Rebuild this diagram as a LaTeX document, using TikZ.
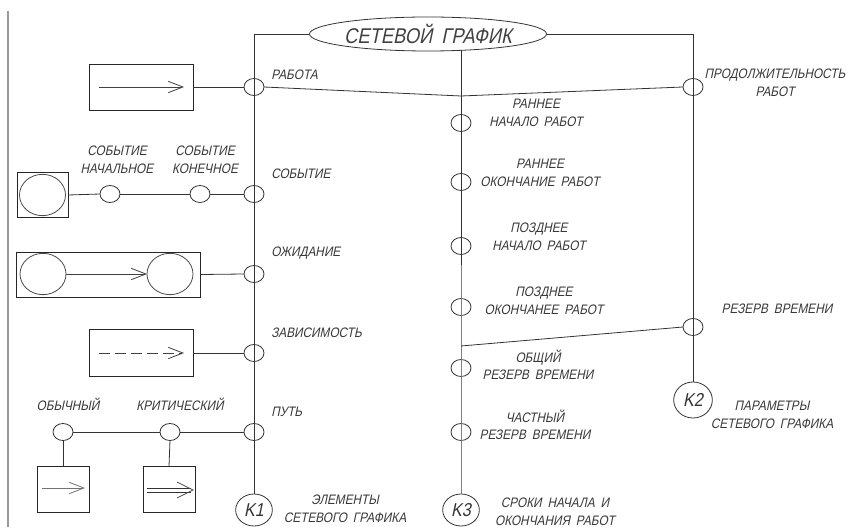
\documentclass[tikz,border=0pt]{standalone}
\usepackage{fontspec}
\newfontfamily\gost{Liberation Sans}[FakeStretch=0.86,FakeSlant=0.21,WordSpace=1.8]
\usetikzlibrary{shapes.geometric,arrows.meta}
\begin{document}
\begin{tikzpicture}[x=0.75pt,y=-0.75pt,
 ln/.style={draw=black!80,line width=0.6pt},
 lng/.style={draw=black!50,line width=0.6pt},
 junc/.style={ellipse,draw=black!80,line width=0.6pt,minimum width=15pt,minimum height=12.75pt,inner sep=0pt,outer sep=0pt},
 kc/.style={ellipse,draw=black!80,line width=0.6pt,minimum width=27.5pt,minimum height=24pt,inner sep=0pt,outer sep=0pt,font=\gost\fontsize{14}{14}\selectfont,text=black!80},
 boxx/.style={rectangle,draw=black!85,line width=0.6pt,inner sep=0pt,outer sep=0pt},
 ev/.style={ellipse,draw=black!70,line width=0.6pt,minimum width=34.5pt,minimum height=31pt,inner sep=0pt,outer sep=0pt},
 lbl/.style={font=\gost\fontsize{10.3}{13.2}\selectfont,text=black!78,align=center,inner sep=0pt},
 lbll/.style={lbl,anchor=west},
 barb/.style={draw=black!75,line width=0.6pt,-{Straight Barb[length=11pt,width=8.5pt,line width=0.6pt]}},
]
\useasboundingbox (0,0) rectangle (848,527);

% far left gray rule
\coordinate (g1) at (8,11);
\coordinate (g2) at (8,527);
\draw[draw=black!40,line width=0.9pt] (g1) -- (g2);

% title
\node[ellipse,draw=black!80,line width=0.6pt,minimum width=163.5pt,minimum height=25.5pt,inner sep=0pt,
      font=\gost\fontsize{16}{16}\selectfont,text=black!75] (title) at (428,34) {СЕТЕВОЙ ГРАФИК};
\coordinate (tl) at (254,34);
\coordinate (tr) at (693,34);
\coordinate (tm) at (461,50.5);
\coordinate (mv1) at (461,96);
\coordinate (mv2) at (461,346);
\coordinate (mmid) at (461,265);

% left column junctions
\node[junc] (jA) at (254,87) {};
\node[junc] (jB) at (254,194) {};
\node[junc] (jC) at (254,274) {};
\node[junc] (jD) at (254,353) {};
\node[junc] (jE) at (254,432) {};
\node[kc] (K1) at (254,510) {K1};

% middle column junctions
\node[junc] (m1) at (461,123) {};
\node[junc] (m2) at (461,182) {};
\node[junc] (m3) at (461,246) {};
\node[junc] (m4) at (461,307) {};
\node[junc] (m5) at (461,368) {};
\node[junc] (m6) at (461,432) {};
\node[kc] (K3) at (461,510) {K3};

% right column
\node[junc] (r1) at (693,87) {};
\node[junc] (r2) at (693,327) {};
\node[kc,minimum width=29pt,minimum height=27pt] (K2) at (693,400) {K2};

% trunk lines
\draw[ln] (tl) -- (title.west);
\draw[ln] (title.east) -- (tr);
\draw[ln] (tl) -- (K1.north);
\draw[ln] (tr) -- (K2.north);
\draw[ln] (tm) -- (mmid);
\draw[lng] (mmid) -- (K3.north);
\draw[ln] (jA.east) -- (mv1) -- (r1.west);
\draw[ln] (mv2) -- (r2.west);

% box 1: work
\node[boxx,minimum width=78pt,minimum height=34.5pt] (b1) at (141,87) {};
\coordinate (a1s) at (99,87);
\coordinate (a1e) at (184,87);
\draw[barb] (a1s) -- (a1e);
\draw[ln] (b1.east) -- (jA.west);

% box 2: event
\node[boxx,minimum width=38.25pt,minimum height=33.75pt] (b2) at (42.5,195) {};
\node[ev] (e0) at (42.5,195) {};
\node[junc] (s1) at (110,194) {};
\node[junc] (s2) at (200,194) {};
\draw[ln] (b2.east) -- (s1.west);
\draw[ln] (s1.east) -- (s2.west);
\draw[ln] (s2.east) -- (jB.west);

% box 3: waiting
\node[boxx,minimum width=138pt,minimum height=33.75pt] (b3) at (108,274.5) {};
\node[ev] (e1) at (43,274) {};
\node[ev] (e2) at (170,274) {};
\draw[barb] (e1.east) -- (e2.west);
\draw[ln] (b3.east) -- (jC.west);

% box 4: dependency
\node[boxx,minimum width=78pt,minimum height=35.25pt] (b4) at (141,353) {};
\coordinate (a4s) at (99,353);
\coordinate (a4e) at (184,353);
\draw[barb,dash pattern=on 8pt off 4pt] (a4s) -- (a4e);
\draw[ln] (b4.east) -- (jD.west);

% path row
\node[junc] (p1) at (63,432) {};
\node[junc] (p2) at (170,432) {};
\draw[ln] (p1.east) -- (p2.west);
\draw[ln] (p2.east) -- (jE.west);
\node[boxx,minimum width=39pt,minimum height=34.5pt] (b5) at (63,489) {};
\node[boxx,minimum width=39pt,minimum height=34.5pt] (b6) at (169,489) {};
\draw[ln] (p1.south) -- (b5.north);
\draw[ln] (p2.south) -- (b6.north);
\coordinate (a5s) at (42,488);
\coordinate (a5e) at (85,488);
\draw[barb,draw=black!55] (a5s) -- (a5e);
\coordinate (a6s) at (147,488);
\coordinate (a6e) at (191,488);
\coordinate (a6s2) at (147,492);
\coordinate (a6e2) at (191,492);
\coordinate (h1) at (177,482);
\coordinate (h2) at (193,490);
\coordinate (h3) at (177,498);
\draw[ln] (a6s) -- (a6e);
\draw[ln] (a6s2) -- (a6e2);
\draw[draw=black!70,line width=0.6pt] (h1) -- (h2) -- (h3);

% labels left side
\node[lbl] at (117,160) {СОБЫТИЕ\\НАЧАЛЬНОЕ};
\node[lbl] at (205,160) {СОБЫТИЕ\\КОНЕЧНОЕ};
\node[lbl] at (68,404) {ОБЫЧНЫЙ};
\node[lbl] at (180,404) {КРИТИЧЕСКИЙ};

% labels left column
\node[lbll] at (271,75) {РАБОТА};
\node[lbll] at (271,174) {СОБЫТИЕ};
\node[lbll] at (271,253) {ОЖИДАНИЕ};
\node[lbll] at (271,333) {ЗАВИСИМОСТЬ};
\node[lbll] at (271,412) {ПУТЬ};
\node[lbl] at (345,509) {ЭЛЕМЕНТЫ\\СЕТЕВОГО ГРАФИКА};

% labels middle column
\node[lbl] at (536,113) {РАННЕЕ\\НАЧАЛО РАБОТ};
\node[lbl] at (540,173) {РАННЕЕ\\ОКОНЧАНИЕ РАБОТ};
\node[lbl] at (539,237) {ПОЗДНЕЕ\\НАЧАЛО РАБОТ};
\node[lbl] at (544,301) {ПОЗДНЕЕ\\ОКОНЧАНЕЕ РАБОТ};
\node[lbl] at (538,365) {ОБЩИЙ\\РЕЗЕРВ ВРЕМЕНИ};
\node[lbl] at (535,425) {ЧАСТНЫЙ\\РЕЗЕРВ ВРЕМЕНИ};
\node[lbl] at (555,512) {СРОКИ НАЧАЛА И\\ОКОНЧАНИЯ РАБОТ};

% labels right column
\node[lbl] at (775,83) {ПРОДОЛЖИТЕЛЬНОСТЬ\\РАБОТ};
\node[lbl] at (777,309) {РЕЗЕРВ ВРЕМЕНИ};
\node[lbl] at (772,415) {ПАРАМЕТРЫ\\СЕТЕВОГО ГРАФИКА};
\end{tikzpicture}
\end{document}
